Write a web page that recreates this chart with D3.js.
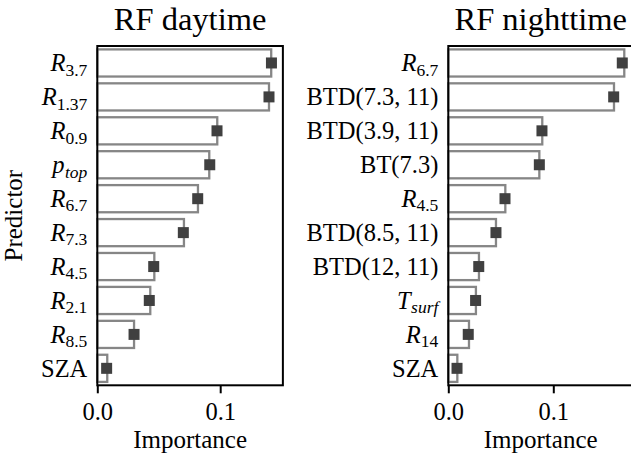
<!DOCTYPE html>
<html>
<head>
<meta charset="utf-8">
<script src="https://cdn.jsdelivr.net/npm/d3@7"></script>
<style>
  html, body { margin: 0; padding: 0; background: #fff; }
  svg { display: block; }
  svg text { font-family: 'Times New Roman', 'Liberation Serif', serif !important; fill: #000; }
</style>
</head>
<body>
<div id="chart"></div>
<script>
// ---- data ----
const dayLabels   = ["R_{3.7}", "R_{1.37}", "R_{0.9}", "p_{top}", "R_{6.7}", "R_{7.3}", "R_{4.5}", "R_{2.1}", "R_{8.5}", "SZA"];
const dayBars     = [0.1415, 0.1397, 0.0976, 0.0911, 0.0819, 0.0705, 0.0464, 0.0431, 0.0299, 0.0081];
const dayMarks    = [0.1417, 0.1397, 0.0974, 0.0915, 0.0817, 0.0700, 0.0459, 0.0423, 0.0299, 0.0076];

const nightLabels = ["R_{6.7}", "BTD(7.3, 11)", "BTD(3.9, 11)", "BT(7.3)", "R_{4.5}", "BTD(8.5, 11)", "BTD(12, 11)", "T_{surf}", "R_{14}", "SZA"];
const nightBars   = [0.1676, 0.1578, 0.0895, 0.0867, 0.0543, 0.0454, 0.0292, 0.0263, 0.0197, 0.0086];
const nightMarks  = [0.1657, 0.1575, 0.0892, 0.0867, 0.0540, 0.0454, 0.0290, 0.0260, 0.0190, 0.0083];

const titles   = ["RF daytime", "RF nighttime"];
const xTicks   = [0.0, 0.1];
const xLimits  = [0.151, 0.176];
const xLabel   = "Importance";
const yLabel   = "Predictor";

// ---- layout ----
const W = 631, H = 454;
const plotTop = 46, plotBottom = 385.3;
const panels = [
  { left: 97.3,  pxPerUnit: 1229, labels: dayLabels,   bars: dayBars,   marks: dayMarks,   title: titles[0], xmax: xLimits[0] },
  { left: 448.3, pxPerUnit: 1050, labels: nightLabels, bars: nightBars, marks: nightMarks, title: titles[1], xmax: xLimits[1] }
];

const svg = d3.select("#chart").append("svg")
  .attr("width", W).attr("height", H);

const tickFont = 24.5, subFont = 17.5;

function writeLabel(textSel, s) {
  textSel.text(null);
  const m = s.match(/^([A-Za-z]+)_\{(.+)\}$/);
  if (m) {
    textSel.append("tspan").attr("font-style", "italic").text(m[1]);
    const isLetters = /[a-z]/.test(m[2]);
    textSel.append("tspan")
      .attr("font-size", subFont)
      .attr("font-style", isLetters ? "italic" : "normal")
      .attr("dx", isLetters ? 0.5 : 0)
      .attr("dy", 4.5)
      .text(m[2]);
  } else {
    textSel.append("tspan").text(s);
  }
}

panels.forEach(p => {
  const right = p.left + p.xmax * p.pxPerUnit;
  const x = d3.scaleLinear().domain([0, p.xmax]).range([p.left, right]);
  const y = d3.scaleBand().domain(p.labels).range([plotTop, plotBottom])
    .paddingInner(0.2).paddingOuter(0.1);

  const g = svg.append("g");

  // bars (outline only)
  g.selectAll("rect.bar").data(p.labels).join("rect")
    .attr("class", "bar")
    .attr("x", x(0))
    .attr("y", d => y(d))
    .attr("width", (d, i) => x(p.bars[i]) - x(0))
    .attr("height", y.bandwidth())
    .attr("fill", "none")
    .attr("stroke", "#868686")
    .attr("stroke-width", 2.3);

  // frame
  g.append("rect")
    .attr("x", p.left).attr("y", plotTop)
    .attr("width", right - p.left).attr("height", plotBottom - plotTop)
    .attr("fill", "none").attr("stroke", "#000").attr("stroke-width", 2);

  // markers
  const ms = 11;
  g.selectAll("rect.mark").data(p.labels).join("rect")
    .attr("class", "mark")
    .attr("x", (d, i) => x(p.marks[i]) - ms / 2)
    .attr("y", d => y(d) + y.bandwidth() / 2 - ms / 2)
    .attr("width", ms).attr("height", ms)
    .attr("fill", "#404040");

  // x axis
  const xa = g.append("g").attr("transform", `translate(0,${plotBottom})`)
    .call(d3.axisBottom(x).tickValues(xTicks).tickSize(8).tickPadding(6).tickFormat(d3.format(".1f")));
  xa.select(".domain").remove();
  xa.selectAll(".tick line").attr("stroke", "#000").attr("stroke-width", 2);
  xa.selectAll(".tick text")
    .attr("font-size", tickFont)
    .attr("dy", null).attr("y", 34.5)
    .attr("fill", "#000");

  // y axis labels
  const ya = g.append("g").attr("transform", `translate(${p.left},0)`)
    .call(d3.axisLeft(y).tickSize(0).tickPadding(10));
  ya.select(".domain").remove();
  ya.selectAll(".tick text")
    .attr("font-size", tickFont)
    .attr("dy", null).attr("y", 8.3)
    .attr("fill", "#000")
    .each(function(d) { writeLabel(d3.select(this), d); });

  // title
  svg.append("text")
    .attr("x", (p.left + right) / 2).attr("y", 30)
    .attr("text-anchor", "middle")
    .attr("font-size", 32.5)
    .text(p.title);

  // x label
  svg.append("text")
    .attr("x", (p.left + right) / 2).attr("y", 448)
    .attr("text-anchor", "middle")
    .attr("font-size", 25)
    .text(xLabel);
});

// y label
svg.append("text")
  .attr("transform", `translate(22,${(plotTop + plotBottom) / 2}) rotate(-90)`)
  .attr("text-anchor", "middle")
  .attr("font-size", 25)
  .text(yLabel);
</script>
</body>
</html>
